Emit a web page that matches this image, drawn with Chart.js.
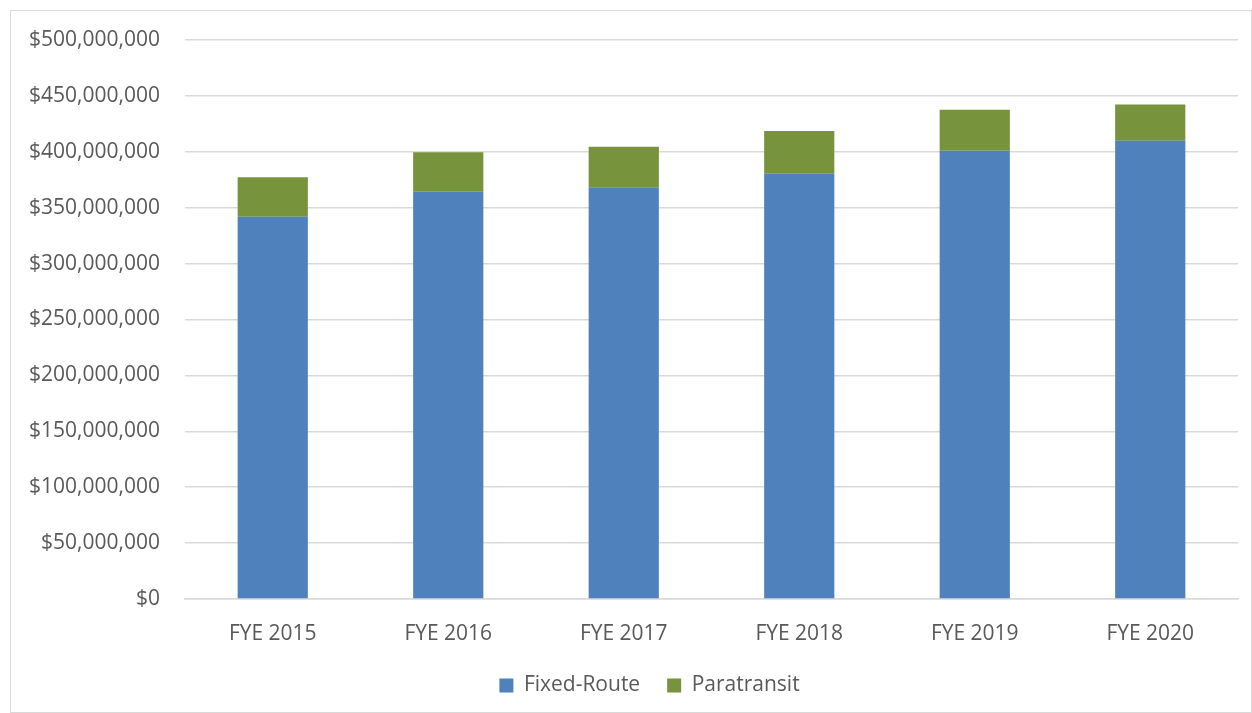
<!DOCTYPE html>
<html>
<head>
<meta charset="utf-8">
<script src="https://cdn.jsdelivr.net/npm/chart.js@4"></script>
<style>
  html, body { margin: 0; padding: 0; background: #fff; }
  #frame {
    position: absolute; left: 10px; top: 10px;
    width: 1240px; height: 701px;
    border: 1px solid #d9d9d9;
  }
  #chart { display: block; }
</style>
</head>
<body>
<div id="frame"><canvas id="chart" width="1240" height="701"></canvas></div>
<script>
// ---------- Data ----------
const years = ['FYE 2015', 'FYE 2016', 'FYE 2017', 'FYE 2018', 'FYE 2019', 'FYE 2020'];
const fixedRoute = [341800000, 364200000, 368300000, 380400000, 401000000, 409900000];
const paratransit = [35400000, 35400000, 36300000, 38100000, 36700000, 32300000];

const textColor = '#595959';
const gridColor = '#d9d9d9';
const fontFamily = '"Open Sans", "Liberation Sans", sans-serif';

const money = v => '$' + Math.round(v).toLocaleString('en-US');

// nudge the legend a little to the right, as in the original
const legendShift = {
  id: 'legendShift',
  afterLayout(chart) {
    if (chart.legend) {
      chart.legend.left += 25;
      chart.legend.right += 25;
    }
  }
};

const ctx = document.getElementById('chart').getContext('2d');
new Chart(ctx, {
  type: 'bar',
  data: {
    labels: years,
    datasets: [
      { label: 'Fixed-Route', data: fixedRoute, backgroundColor: '#4f81bd' },
      { label: 'Paratransit', data: paratransit, backgroundColor: '#77933c' }
    ]
  },
  options: {
    responsive: false,
    animation: false,
    layout: { padding: { top: 29, right: 13, bottom: 6, left: 0 } },
    datasets: { bar: { barPercentage: 0.4, categoryPercentage: 1.0 } },
    scales: {
      x: {
        stacked: true,
        afterFit: (axis) => { axis.height = 49; axis.paddingLeft = 0; axis.paddingRight = 0; },
        grid: { display: false, drawTicks: false },
        border: { color: gridColor, width: 1.5 },
        ticks: { color: textColor, font: { family: fontFamily, size: 21 }, padding: 22 }
      },
      y: {
        stacked: true,
        min: 0,
        max: 500000000,
        afterFit: (axis) => { axis.width = 174; axis.paddingTop = 0; axis.paddingBottom = 0; },
        grid: { color: gridColor, lineWidth: 1.5, drawTicks: false },
        border: { display: false },
        ticks: {
          stepSize: 50000000,
          color: textColor,
          font: { family: fontFamily, size: 21 },
          padding: 25,
          callback: v => money(v)
        }
      }
    },
    plugins: {
      tooltip: { enabled: false },
      legend: {
        position: 'bottom',
        labels: {
          color: textColor,
          font: { family: fontFamily, size: 21 },
          boxWidth: 14,
          boxHeight: 14,
          padding: 27
        }
      }
    }
  },
  plugins: [legendShift]
});
</script>
</body>
</html>
